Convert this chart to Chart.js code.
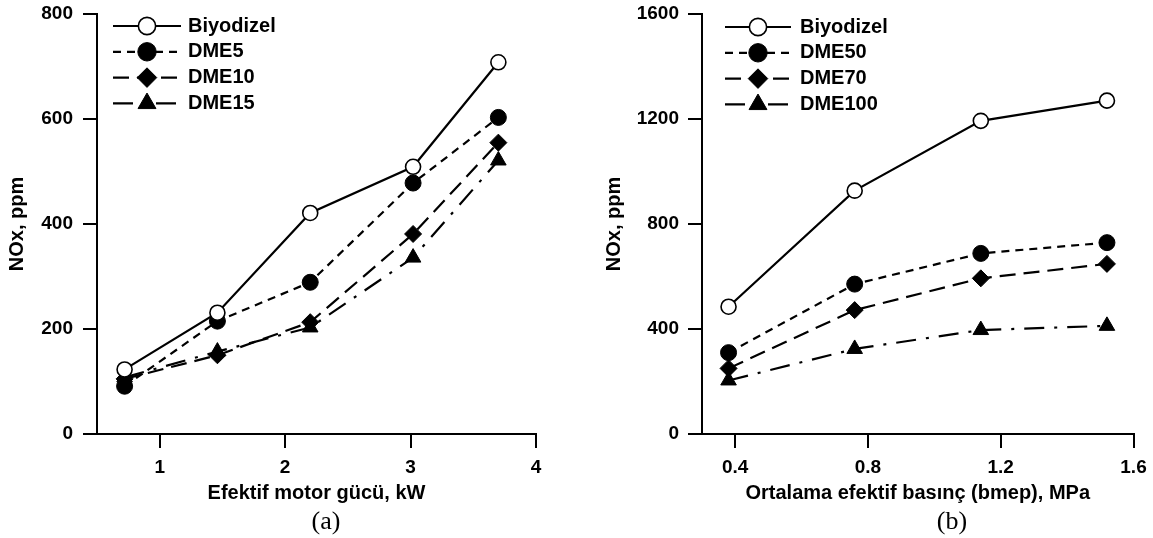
<!DOCTYPE html>
<html><head><meta charset="utf-8">
<script src="https://cdn.jsdelivr.net/npm/chart.js@4.4.1/dist/chart.umd.min.js"></script>
<style>
html,body{margin:0;padding:0;background:#fff;width:1153px;height:538px;overflow:hidden;position:relative}
canvas{position:absolute;top:0}
#cA{left:0}
#cB{left:590px}
.cap{position:absolute;font-family:"Liberation Serif","Times New Roman",serif;font-size:26px;line-height:26px;color:#000;transform:translateX(-50%);white-space:nowrap}
</style></head><body>
<canvas id="cA" width="576" height="538"></canvas>
<canvas id="cB" width="563" height="538"></canvas>
<div class="cap" style="left:326px;top:508px">(a)</div>
<div class="cap" style="left:952px;top:508px">(b)</div>
<script>
// ---- Data: chart (a)
const xA = [0.72, 1.46, 2.20, 3.02, 3.70];
const labelsA = ['Biyodizel', 'DME5', 'DME10', 'DME15'];
const bioA = [123, 231, 421, 509, 708];
const dme5A = [91, 215, 289, 478, 603];
const dme10A = [105, 150, 213, 381, 555];
const dme15A = [108, 157, 203, 336, 521];
const xTicksA = [1, 2, 3, 4];
const xTickLabelsA = ['1', '2', '3', '4'];
const yTicksA = [0, 200, 400, 600, 800];
const yTickLabelsA = ['0', '200', '400', '600', '800'];

// ---- Data: chart (b)
const xB = [0.38, 0.76, 1.14, 1.52];
const labelsB = ['Biyodizel', 'DME50', 'DME70', 'DME100'];
const bioB = [485, 927, 1193, 1270];
const dme50B = [310, 571, 688, 729];
const dme70B = [250, 472, 593, 648];
const dme100B = [204, 324, 396, 412];
const xTicksB = [0.4, 0.8, 1.2, 1.6];
const xTickLabelsB = ['0.4', '0.8', '1.2', '1.6'];
const yTicksB = [0, 400, 800, 1200, 1600];
const yTickLabelsB = ['0', '400', '800', '1200', '1600'];

const FONT = '"Liberation Sans", Arial, Helvetica, sans-serif';

const STYLES = [
  {borderDash: [], pointStyle: 'circle', pointRadius: 7.5, pointBackgroundColor: '#fff', pointBorderWidth: 1.6},
  {borderDash: [8, 6], pointStyle: 'circle', pointRadius: 8, pointBackgroundColor: '#000', pointBorderWidth: 1},
  {borderDash: [16, 8], pointStyle: 'rectRot', pointRadius: 8.5, pointBackgroundColor: '#000', pointBorderWidth: 1},
  {borderDash: [20, 10, 3, 10], pointStyle: 'triangle', pointRadius: 9, pointBackgroundColor: '#000', pointBorderWidth: 1}
];

function makeDatasets(labels, xs, series) {
  return series.map((ys, i) => Object.assign({
    label: labels[i],
    data: xs.map((x, j) => ({x: x, y: ys[j]})),
    showLine: true,
    fill: false,
    tension: 0,
    borderColor: '#000',
    borderWidth: 2.2,
    pointBorderColor: '#000',
    pointHoverRadius: STYLES[i].pointRadius
  }, STYLES[i]));
}

const lineLegend = {
  id: 'lineLegend',
  afterDatasetsDraw(chart, args, o) {
    const ctx = chart.ctx;
    chart.data.datasets.forEach((ds, i) => {
      const y = o.top + i * o.rowHeight;
      ctx.save();
      ctx.strokeStyle = ds.borderColor;
      ctx.lineWidth = ds.borderWidth;
      ctx.setLineDash(ds.borderDash || []);
      ctx.beginPath();
      ctx.moveTo(o.lineStart, y);
      ctx.lineTo(o.lineEnd, y);
      ctx.stroke();
      ctx.setLineDash([]);
      ctx.fillStyle = ds.pointBackgroundColor;
      ctx.strokeStyle = ds.pointBorderColor;
      ctx.lineWidth = ds.pointBorderWidth;
      Chart.helpers.drawPoint(ctx, {
        pointStyle: ds.pointStyle,
        radius: ds.pointRadius * o.markerScale,
        borderWidth: ds.pointBorderWidth,
        rotation: 0
      }, o.marker, y);
      ctx.fillStyle = '#000';
      ctx.font = o.font;
      ctx.textAlign = 'left';
      ctx.textBaseline = 'middle';
      ctx.fillText(ds.label, o.textX, y);
      ctx.restore();
    });
  }
};

function makeChart(id, cfg) {
  const tickFont = {family: FONT, size: 19, weight: 'bold', lineHeight: 1.2};
  const titleFont = {family: FONT, size: 20, weight: 'bold', lineHeight: 1.2};
  return new Chart(document.getElementById(id), {
    type: 'scatter',
    data: {datasets: cfg.datasets},
    plugins: [lineLegend],
    options: {
      responsive: false,
      animation: false,
      devicePixelRatio: 1,
      layout: {padding: {top: 14, left: 0, bottom: 0, right: cfg.padRight}},
      plugins: {
        legend: {display: false},
        tooltip: {enabled: false},
        lineLegend: cfg.legend
      },
      scales: {
        x: {
          type: 'linear', position: 'bottom', min: cfg.xMin, max: cfg.xMax,
          afterBuildTicks: s => { s.ticks = cfg.xTicks.map(v => ({value: v})); },
          afterFit: s => { s.height = 104; s.paddingLeft = 0; s.paddingRight = 0; s.paddingTop = 0; s.paddingBottom = 0; },
          grid: {drawOnChartArea: false, drawTicks: true, tickLength: 14, color: '#000', lineWidth: 2},
          border: {display: true, color: '#000', width: 2},
          ticks: {
            color: '#000', font: tickFont, padding: 8, maxRotation: 0, autoSkip: false,
            callback: v => cfg.xLabels[cfg.xTicks.indexOf(v)]
          },
          title: {display: true, text: cfg.xTitle, color: '#000', font: titleFont, padding: {top: 0, bottom: 33}}
        },
        y: {
          type: 'linear', position: 'left', min: cfg.yMin, max: cfg.yMax,
          afterBuildTicks: s => { s.ticks = cfg.yTicks.map(v => ({value: v})); },
          afterFit: s => { s.width = cfg.yWidth; s.paddingTop = 0; s.paddingBottom = 0; s.paddingLeft = 0; s.paddingRight = 0; },
          grid: {drawOnChartArea: false, drawTicks: true, tickLength: 14, color: '#000', lineWidth: 2},
          border: {display: true, color: '#000', width: 2},
          ticks: {
            color: '#000', font: tickFont, padding: cfg.yPad, autoSkip: false,
            callback: v => cfg.yLabels[cfg.yTicks.indexOf(v)]
          },
          title: {display: true, text: 'NOx, ppm', color: '#000', font: titleFont, padding: {top: cfg.yTitlePad, bottom: 0}}
        }
      }
    }
  });
}

makeChart('cA', {
  datasets: makeDatasets(labelsA, xA, [bioA, dme5A, dme10A, dme15A]),
  xMin: 0.5, xMax: 4, xTicks: xTicksA, xLabels: xTickLabelsA,
  yMin: 0, yMax: 800, yTicks: yTicksA, yLabels: yTickLabelsA,
  xTitle: 'Efektif motor gücü, kW',
  yWidth: 97, yPad: 10, yTitlePad: 5.5, padRight: 40,
  legend: {top: 26, rowHeight: 25.8, lineStart: 113, lineEnd: 181, marker: 147, textX: 188, markerScale: 1.15,
           font: 'bold 20px ' + FONT}
});

makeChart('cB', {
  datasets: makeDatasets(labelsB, xB, [bioB, dme50B, dme70B, dme100B]),
  xMin: 0.3, xMax: 1.6, xTicks: xTicksB, xLabels: xTickLabelsB,
  yMin: 0, yMax: 1600, yTicks: yTicksB, yLabels: yTickLabelsB,
  xTitle: 'Ortalama efektif basınç (bmep), MPa',
  yWidth: 112, yPad: 9, yTitlePad: 12, padRight: 19.5,
  legend: {top: 27, rowHeight: 25.8, lineStart: 135, lineEnd: 201, marker: 168, textX: 210, markerScale: 1.15,
           font: 'bold 20px ' + FONT}
});
</script>
</body></html>
